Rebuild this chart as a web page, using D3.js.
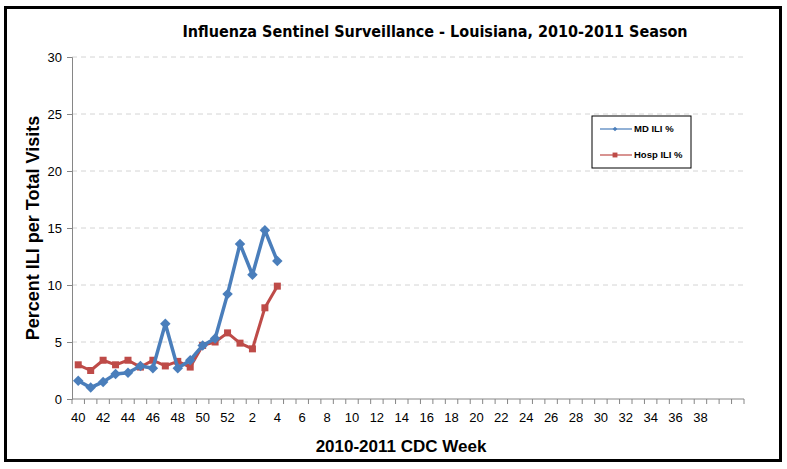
<!DOCTYPE html>
<html>
<head>
<meta charset="utf-8">
<script src="https://cdn.jsdelivr.net/npm/d3@7"></script>
<style>
  body { margin: 0; background: #fff; }
  svg { display: block; }
</style>
</head>
<body>
<div id="chart"></div>
<script>
// Week labels on the category axis (two empty slots at the end)
const weeks = [40, 41, 42, 43, 44, 45, 46, 47, 48, 49, 50, 51, 52,
  1, 2, 3, 4, 5, 6, 7, 8, 9, 10, 11, 12, 13, 14, 15, 16, 17, 18, 19, 20,
  21, 22, 23, 24, 25, 26, 27, 28, 29, 30, 31, 32, 33, 34, 35, 36, 37, 38, 39, "", ""];

// Values (weeks 40 .. 4)
const mdIli = [1.6, 1.0, 1.5, 2.2, 2.3, 2.9, 2.7, 6.6, 2.7, 3.4, 4.7, 5.3, 9.2, 13.6, 10.9, 14.8, 12.1];
const hospIli = [3.0, 2.5, 3.4, 3.0, 3.4, 2.8, 3.4, 2.9, 3.3, 2.8, 4.7, 5.0, 5.8, 4.9, 4.4, 8.0, 9.9];

const yTicks = [0, 5, 10, 15, 20, 25, 30];

const width = 787, height = 469;
const margin = { left: 72, right: 43, top: 57, bottom: 70 };
const plotW = width - margin.left - margin.right;
const plotH = height - margin.top - margin.bottom;

const blue = "#4a7ebb", red = "#be4b48";

const svg = d3.select("#chart").append("svg")
  .attr("width", width)
  .attr("height", height);

// Outer frame
svg.append("rect")
  .attr("x", 5.5).attr("y", 7.5)
  .attr("width", 775).attr("height", 453)
  .attr("fill", "#fff")
  .attr("stroke", "#000")
  .attr("stroke-width", 3);

const x = d3.scaleBand()
  .domain(d3.range(weeks.length))
  .range([0, plotW]);

const y = d3.scaleLinear()
  .domain([0, 30])
  .range([plotH, 0]);

const g = svg.append("g")
  .attr("transform", `translate(${margin.left},${margin.top})`);

// Dashed gridlines
g.selectAll(".grid")
  .data(yTicks.filter(d => d > 0))
  .enter().append("line")
  .attr("x1", 0).attr("x2", plotW)
  .attr("y1", d => y(d)).attr("y2", d => y(d))
  .attr("stroke", "#d4d4d4")
  .attr("stroke-dasharray", "5,4");

// Y axis
const yAxis = g.append("g")
  .call(d3.axisLeft(y).tickValues(yTicks).tickSize(5).tickPadding(5));
yAxis.selectAll("path, line").attr("stroke", "#868686");
yAxis.selectAll("text")
  .attr("font-family", "Liberation Sans, Arial, sans-serif")
  .attr("font-size", 13)
  .attr("fill", "#000");

// X axis: ticks between categories, labels every other week
const xAxis = g.append("g")
  .attr("transform", `translate(0,${plotH})`);
xAxis.append("line")
  .attr("x1", 0).attr("x2", plotW)
  .attr("stroke", "#868686");
xAxis.selectAll(".tick")
  .data(d3.range(weeks.length + 1))
  .enter().append("line")
  .attr("x1", i => i * x.bandwidth()).attr("x2", i => i * x.bandwidth())
  .attr("y1", 0).attr("y2", 5)
  .attr("stroke", "#868686");
xAxis.selectAll(".lab")
  .data(weeks.map((w, i) => ({ w, i })).filter(d => d.i % 2 === 0 && d.w !== ""))
  .enter().append("text")
  .attr("x", d => x(d.i) + x.bandwidth() / 2)
  .attr("y", 14)
  .attr("dy", "0.71em")
  .attr("text-anchor", "middle")
  .attr("font-family", "Liberation Sans, Arial, sans-serif")
  .attr("font-size", 13)
  .text(d => d.w);

const cx = i => x(i) + x.bandwidth() / 2;

const line = d3.line()
  .x((d, i) => cx(i))
  .y(d => y(d));

// Hosp ILI series
g.append("path")
  .datum(hospIli)
  .attr("d", line)
  .attr("fill", "none")
  .attr("stroke", red)
  .attr("stroke-width", 3)
  .attr("stroke-linejoin", "round");
g.selectAll(".sq")
  .data(hospIli)
  .enter().append("rect")
  .attr("x", (d, i) => cx(i) - 3.5)
  .attr("y", d => y(d) - 3.5)
  .attr("width", 7).attr("height", 7)
  .attr("fill", red);

// MD ILI series (drawn on top)
g.append("path")
  .datum(mdIli)
  .attr("d", line)
  .attr("fill", "none")
  .attr("stroke", blue)
  .attr("stroke-width", 3.5)
  .attr("stroke-linejoin", "round");
g.selectAll(".dia")
  .data(mdIli)
  .enter().append("path")
  .attr("d", d3.symbol(d3.symbolDiamond2, 70))
  .attr("transform", (d, i) => `translate(${cx(i)},${y(d)})`)
  .attr("fill", blue);

// Titles
svg.append("text")
  .attr("x", 435).attr("y", 37)
  .attr("text-anchor", "middle")
  .attr("font-family", "DejaVu Sans Condensed, DejaVu Sans, sans-serif")
  .attr("font-weight", "bold")
  .attr("font-size", 16)
  .text("Influenza Sentinel Surveillance - Louisiana, 2010-2011 Season");

svg.append("text")
  .attr("transform", `translate(39,${margin.top + plotH / 2}) rotate(-90)`)
  .attr("text-anchor", "middle")
  .attr("font-family", "Liberation Sans, Arial, sans-serif")
  .attr("font-weight", "bold")
  .attr("font-size", 18)
  .text("Percent ILI per Total Visits");

svg.append("text")
  .attr("x", 401).attr("y", 452)
  .attr("text-anchor", "middle")
  .attr("font-family", "Liberation Sans, Arial, sans-serif")
  .attr("font-weight", "bold")
  .attr("font-size", 17)
  .text("2010-2011 CDC Week");

// Legend
const legend = svg.append("g").attr("transform", "translate(592,116)");
legend.append("rect")
  .attr("width", 99).attr("height", 52)
  .attr("fill", "#fff")
  .attr("stroke", "#000")
  .attr("stroke-width", 1);

const legendItems = legend.selectAll(".item")
  .data([
    { name: "MD ILI %", color: blue, shape: "diamond" },
    { name: "Hosp ILI %", color: red, shape: "square" }
  ])
  .enter().append("g")
  .attr("transform", (d, i) => `translate(0,${13 + i * 26})`);

legendItems.append("line")
  .attr("x1", 8).attr("x2", 40)
  .attr("stroke", d => d.color)
  .attr("stroke-width", 1.2);
legendItems.append("path")
  .attr("d", d => d.shape === "diamond"
    ? d3.symbol(d3.symbolDiamond2, 14)()
    : d3.symbol(d3.symbolSquare2, 30)())
  .attr("transform", "translate(23,0)")
  .attr("fill", d => d.color);
legendItems.append("text")
  .attr("x", 42)
  .attr("dy", "0.35em")
  .attr("font-family", "Liberation Sans, Arial, sans-serif")
  .attr("font-weight", "bold")
  .attr("font-size", 9.5)
  .text(d => d.name);
</script>
</body>
</html>
